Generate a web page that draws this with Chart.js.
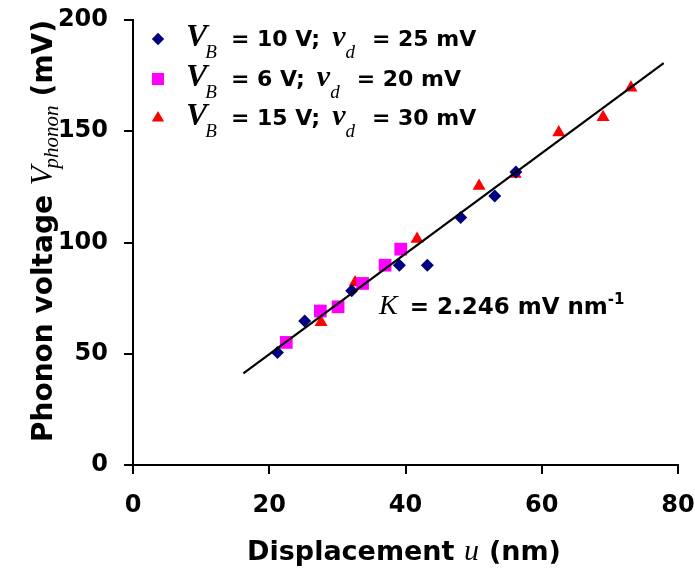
<!DOCTYPE html>
<html><head><meta charset="utf-8">
<script src="https://cdn.jsdelivr.net/npm/chart.js@4.4.0/dist/chart.umd.min.js"></script>
<style>html,body{margin:0;padding:0;background:#fff}</style>
</head><body><canvas id="c" width="695" height="571"></canvas>
<script>
// ---- data ----
const biasV = [10, 6, 15];          // V_B (V)
const driveMV = [25, 20, 30];       // v_d (mV)
const blueX = [21.2, 25.2, 32.1, 39.1, 43.2, 48.1, 53.1, 56.2];
const blueY = [50.6, 64.7, 78.3, 89.8, 89.8, 111.2, 120.9, 131.7];
const pinkX = [22.5, 27.5, 30.1, 33.7, 37.0, 39.3];
const pinkY = [55.1, 69.2, 71.1, 81.6, 89.8, 97.0];
const redX = [27.6, 32.6, 41.7, 50.8, 56.1, 62.5, 69.0, 73.1];
const redY = [64.2, 82.0, 101.6, 125.4, 130.8, 149.4, 156.3, 169.6];
const fitX = [16.2, 77.9];
const fitY = [41.2, 180.6];
const slopeText = '2.246';
const xMin = 0, xMax = 80, xStep = 20;
const yMin = 0, yMax = 200, yStep = 50;

const SANS = '"DejaVu Sans", "Liberation Sans", Arial, sans-serif';
const SERIF = '"Liberation Serif", "Times New Roman", serif';
const colors = ['#000080', '#FF00FF', '#FF0000'];
const styles = ['rectRot', 'rect', 'triangle'];
const radii = [6.5, 9, 7.5];

function pts(xs, ys) { return xs.map((x, i) => ({x, y: ys[i]})); }

function drawRuns(ctx, x, y, runs, align) {
  let total = 0;
  runs.forEach(r => { ctx.font = r.font; total += ctx.measureText(r.t).width + (r.gap || 0); });
  let cx = align === 'center' ? x - total / 2 : x;
  runs.forEach(r => {
    ctx.font = r.font;
    ctx.fillText(r.t, cx, y + (r.dy || 0));
    cx += ctx.measureText(r.t).width + (r.gap || 0);
  });
}

function drawMarker(ctx, style, x, y, r, color) {
  ctx.save();
  ctx.fillStyle = color;
  ctx.beginPath();
  if (style === 'rectRot') {
    ctx.moveTo(x - r, y); ctx.lineTo(x, y - r); ctx.lineTo(x + r, y); ctx.lineTo(x, y + r);
  } else if (style === 'rect') {
    const s = r * Math.SQRT1_2;
    ctx.rect(x - s, y - s, 2 * s, 2 * s);
  } else {
    ctx.moveTo(x, y - r);
    ctx.lineTo(x + r * Math.sin(Math.PI * 2 / 3), y - r * Math.cos(Math.PI * 2 / 3));
    ctx.lineTo(x - r * Math.sin(Math.PI * 2 / 3), y - r * Math.cos(Math.PI * 2 / 3));
  }
  ctx.closePath(); ctx.fill();
  ctx.restore();
}

const textPlugin = {
  id: 'richText',
  afterDraw(chart) {
    const ctx = chart.ctx;
    ctx.save();
    ctx.fillStyle = '#000';
    ctx.textBaseline = 'alphabetic';
    ctx.textAlign = 'left';
    // legend
    const rowsY = [46, 86, 125];
    for (let i = 0; i < 3; i++) {
      drawMarker(ctx, styles[i], 158, rowsY[i] - 7, radii[i] * 0.95, colors[i]);
      drawRuns(ctx, 186, rowsY[i], [
        {t: 'V', font: 'italic bold 32px ' + SERIF, gap: -2},
        {t: 'B', font: 'italic 19px ' + SERIF, dy: 12, gap: 14},
        {t: '= ' + biasV[i] + ' V;', font: 'bold 22px ' + SANS, gap: 12},
        {t: 'v', font: 'italic bold 30px ' + SERIF},
        {t: 'd', font: 'italic 19px ' + SERIF, dy: 12, gap: 17},
        {t: '= ' + driveMV[i] + ' mV', font: 'bold 22px ' + SANS}
      ]);
    }
    // annotation
    drawRuns(ctx, 379, 314, [
      {t: 'K', font: 'italic 28px ' + SERIF, gap: 12},
      {t: '= ' + slopeText + ' mV nm', font: 'bold 23px ' + SANS},
      {t: '-1', font: 'bold 15px ' + SANS, dy: -10}
    ]);
    // x title
    drawRuns(ctx, 404, 560, [
      {t: 'Displacement ', font: 'bold 27px ' + SANS},
      {t: 'u', font: 'italic 30px ' + SERIF, gap: 10},
      {t: '(nm)', font: 'bold 27px ' + SANS}
    ], 'center');
    // y title
    ctx.translate(52, 231);
    ctx.rotate(-Math.PI / 2);
    drawRuns(ctx, 0, 0, [
      {t: 'Phonon voltage ', font: 'bold 28px ' + SANS},
      {t: 'V', font: 'italic 31px ' + SERIF, gap: -2},
      {t: 'phonon', font: 'italic 21px ' + SERIF, dy: 6, gap: 9},
      {t: '(mV)', font: 'bold 28px ' + SANS}
    ], 'center');
    ctx.restore();
  }
};

const axisCommon = {
  type: 'linear',
  grid: {drawOnChartArea: false, drawTicks: true, tickLength: 9, color: '#000', lineWidth: 2},
  border: {display: true, color: '#000', width: 2},
  ticks: {color: '#000', font: {family: SANS, size: 24, weight: 'bold'}}
};

new Chart(document.getElementById('c'), {
  type: 'scatter',
  data: {
    datasets: [
      {label: 'fit', type: 'line', data: pts(fitX, fitY), borderColor: '#000', borderWidth: 2.2, pointRadius: 0, fill: false, order: 0},
      {label: 'VB=10', data: pts(blueX, blueY), pointStyle: styles[0], pointRadius: radii[0], backgroundColor: colors[0], borderWidth: 0, order: 1},
      {label: 'VB=6', data: pts(pinkX, pinkY), pointStyle: styles[1], pointRadius: radii[1], backgroundColor: colors[1], borderWidth: 0, order: 2},
      {label: 'VB=15', data: pts(redX, redY), pointStyle: styles[2], pointRadius: radii[2], backgroundColor: colors[2], borderWidth: 0, order: 3}
    ]
  },
  options: {
    responsive: false,
    animation: false,
    devicePixelRatio: 1,
    layout: {padding: {left: 0, top: 20, right: 17, bottom: 0}},
    plugins: {legend: {display: false}, tooltip: {enabled: false}},
    scales: {
      x: Object.assign({}, axisCommon, {
        min: xMin, max: xMax,
        ticks: Object.assign({}, axisCommon.ticks, {stepSize: xStep, padding: 17}),
        afterFit: s => { s.height = 106; s.paddingLeft = 0; s.paddingRight = 0; }
      }),
      y: Object.assign({}, axisCommon, {
        min: yMin, max: yMax,
        ticks: Object.assign({}, axisCommon.ticks, {stepSize: yStep, padding: 16}),
        afterFit: s => { s.width = 133; s.paddingTop = 0; s.paddingBottom = 0; }
      })
    }
  },
  plugins: [textPlugin]
});
</script></body></html>
